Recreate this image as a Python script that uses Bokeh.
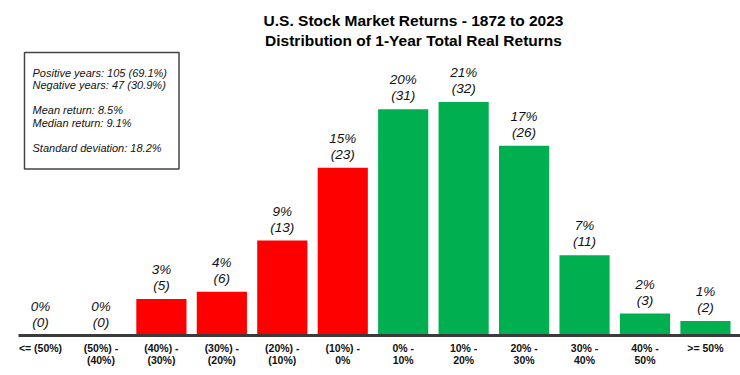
from bokeh.plotting import figure
from bokeh.models import ColumnDataSource, Range1d, FixedTicker, Label
from bokeh.embed import file_html
from bokeh.resources import INLINE
from bokeh.core.properties import value

# ---- data ----
categories = ["<= (50%)", "(50%) -\n(40%)", "(40%) -\n(30%)", "(30%) -\n(20%)",
              "(20%) -\n(10%)", "(10%) -\n0%", "0% -\n10%", "10% -\n20%",
              "20% -\n30%", "30% -\n40%", "40% -\n50%", ">= 50%"]
counts = [0, 0, 5, 6, 13, 23, 31, 32, 26, 11, 3, 2]
percents = [0, 0, 3, 4, 9, 15, 20, 21, 17, 7, 2, 1]
negative_bucket = [True] * 6 + [False] * 6
title_lines = ["U.S. Stock Market Returns - 1872 to 2023",
               "Distribution of 1-Year Total Real Returns"]
stats_lines = ["Positive years: 105 (69.1%)", "Negative years: 47 (30.9%)", "",
               "Mean return: 8.5%", "Median return: 9.1%", "",
               "Standard deviation: 18.2%"]

RED = "#FF0000"
GREEN = "#00B050"
FONT = "Liberation Sans"

xs = list(range(len(categories)))
src = ColumnDataSource(dict(
    x=xs,
    top=counts,
    color=[RED if n else GREEN for n in negative_bucket],
    label=[f"{p}%\n({c})" for p, c in zip(percents, counts)],
))

p = figure(width=740, height=375,
           x_range=Range1d(-0.364, 11.58), y_range=Range1d(0, 45.9),
           output_backend="svg", toolbar_location=None,
           y_axis_location=None, title=None,
           min_border_left=18, min_border_right=0,
           min_border_top=0, min_border_bottom=40)
p.outline_line_color = None
p.grid.visible = False
p.background_fill_color = "white"
p.border_fill_color = "white"

p.vbar(x="x", top="top", width=0.83, color="color", line_color=None, source=src)

p.text(x="x", y="top", text="label", source=src,
       text_font=value(FONT), text_font_style="italic", text_font_size="13.5px",
       text_align="center", text_baseline="bottom", y_offset=-6,
       text_line_height=1.05, text_color="#111111")

ax = p.xaxis[0]
ax.ticker = FixedTicker(ticks=xs)
ax.major_label_overrides = {i: c for i, c in enumerate(categories)}
ax.major_label_text_font = FONT
ax.major_label_text_font_style = "bold"
ax.major_label_text_font_size = "10.5px"
ax.major_label_text_line_height = 1.05
ax.major_label_text_color = "#111111"
ax.major_label_standoff = 6
ax.major_tick_line_color = None
ax.minor_tick_line_color = None
ax.major_tick_out = 0
ax.major_tick_in = 0
ax.axis_line_width = 3
ax.axis_line_color = "#3a3a3a"

for i, t in enumerate(title_lines):
    p.add_layout(Label(x=395, y=315 - 20 * i, x_units="screen", y_units="screen",
                       text=t, text_font=FONT,
                       text_font_style="bold", text_font_size="15.5px",
                       text_align="center", text_baseline="middle",
                       text_color="#000000"))

p.add_layout(Label(x=6, y=283, x_units="screen", y_units="screen",
                   text="\n".join(stats_lines), text_font=FONT,
                   text_font_style="italic", text_font_size="11px",
                   text_line_height=1.05, text_align="left", text_baseline="top",
                   text_color="#111111",
                   padding=dict(left=8, right=12, top=14, bottom=15),
                   border_line_color="#444444", border_line_width=1.5,
                   background_fill_color="white"))

open("out.html", "w").write(file_html(p, INLINE))
